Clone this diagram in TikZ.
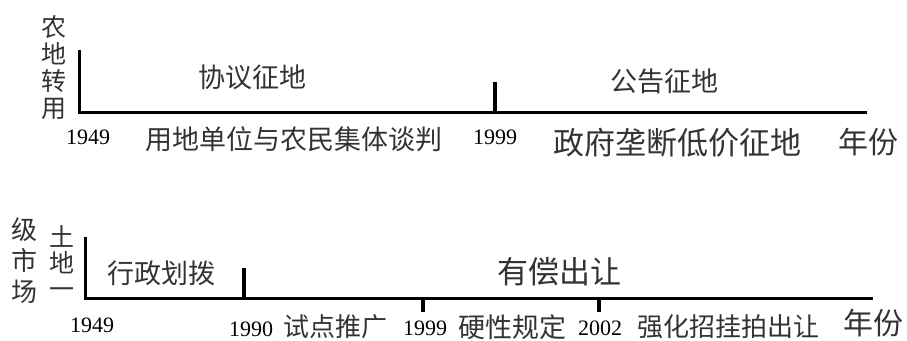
\documentclass[tikz,border=0pt]{standalone}
\usepackage{fontspec}
\setmainfont{Liberation Serif}
\newfontfamily\cjk{Noto Sans CJK SC}
\begin{document}
\begin{tikzpicture}[x=1pt,y=-1pt,
  axis/.style={line width=3pt},
  tickmark/.style={line width=4pt},
  cn/.style={font=\cjk\fontsize{#1}{#1}\selectfont, inner sep=0pt, text=black!80},
  cnv/.style 2 args={font=\cjk\fontsize{#1}{#2}\selectfont, inner sep=0pt, align=center, text=black!80},
  yr/.style={font=\fontsize{22}{22}\selectfont, inner sep=0pt}]
\useasboundingbox (0,0) rectangle (907,340);
% ---------- top timeline ----------
\coordinate (t0) at (79,50);
\coordinate (to) at (79,112);
\coordinate (te) at (867,112);
\draw[axis] (t0) -- (to) -- (te);
\coordinate (t99a) at (495,82);
\coordinate (t99b) at (495,112);
\draw[tickmark] (t99a) -- (t99b);
\node[cnv={25}{27}] (tlab) at (54,68) {农\\地\\转\\用};
\node[cn=27] (xy) at (252,77) {协议征地};
\node[cn=27] (gg) at (664,81) {公告征地};
\node[yr] (y1) at (88,137) {1949};
\node[cn=27] (yd) at (294,139) {用地单位与农民集体谈判};
\node[yr] (y2) at (495,137) {1999};
\node[cn=31] (zf) at (677,143) {政府垄断低价征地};
\node[cn=30] (nf1) at (868,142) {年份};
% ---------- bottom timeline ----------
\coordinate (b0) at (85,237);
\coordinate (bo) at (85,298);
\coordinate (be) at (873,298);
\draw[axis] (b0) -- (bo) -- (be);
\coordinate (b90a) at (244,268);
\coordinate (b90b) at (244,298);
\draw[tickmark] (b90a) -- (b90b);
\coordinate (b99a) at (423,298);
\coordinate (b99b) at (423,312);
\draw[tickmark] (b99a) -- (b99b);
\coordinate (b02a) at (599,298);
\coordinate (b02b) at (599,312);
\draw[tickmark] (b02a) -- (b02b);
\node[cnv={26}{31}] (blab1) at (24,261) {级\\市\\场};
\node[cnv={25}{26}] (blab2) at (62,262) {土\\地\\一};
\node[cn=27] (xz) at (161,273) {行政划拨};
\node[cn=31] (yc) at (559,272) {有偿出让};
\node[yr] (z1) at (92,325) {1949};
\node[yr] (z2) at (251,329) {1990};
\node[cn=26] (sd) at (335,327) {试点推广};
\node[yr] (z3) at (425,328) {1999};
\node[cn=27] (yx) at (512,327) {硬性规定};
\node[yr] (z4) at (600,328) {2002};
\node[cn=26] (qh) at (728,327) {强化招挂拍出让};
\node[cn=30] (nf2) at (873,323) {年份};
\end{tikzpicture}
\end{document}
